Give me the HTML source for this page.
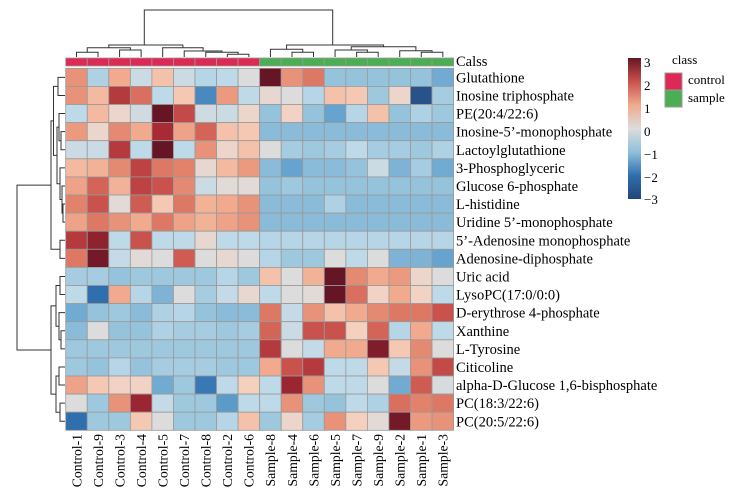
<!DOCTYPE html>
<html><head><meta charset="utf-8"><style>
body{margin:0;background:#fff;}
svg{display:block;font-family:"Liberation Serif",serif;}
</style></head><body>
<svg id="s" width="741" height="502" xmlns="http://www.w3.org/2000/svg">
<defs><linearGradient id="g" x1="0" y1="1" x2="0" y2="0">
<stop offset="0" stop-color="#24457a"/><stop offset="0.167" stop-color="#2f6fae"/><stop offset="0.333" stop-color="#8fc0db"/><stop offset="0.5" stop-color="#dcdcdc"/><stop offset="0.667" stop-color="#f1aa8e"/><stop offset="0.833" stop-color="#c9524c"/><stop offset="1" stop-color="#661525"/>
</linearGradient></defs>
<g id="cells"></g>
<g id="dend" stroke="#333" stroke-width="1" fill="none"></g>
<g font-size="14.5" fill="#000">
<text x="456" y="66">Calss</text>
<text x="456" y="82.4">Glutathione</text>
<text x="456" y="100.5">Inosine triphosphate</text>
<text x="456" y="118.6">PE(20:4/22:6)</text>
<text x="456" y="136.7">Inosine-5’-monophosphate</text>
<text x="456" y="154.8">Lactoylglutathione</text>
<text x="456" y="172.9">3-Phosphoglyceric</text>
<text x="456" y="191">Glucose 6-phosphate</text>
<text x="456" y="209.1">L-histidine</text>
<text x="456" y="227.2">Uridine 5’-monophosphate</text>
<text x="456" y="245.3">5’-Adenosine monophosphate</text>
<text x="456" y="263.4">Adenosine-diphosphate</text>
<text x="456" y="281.5">Uric acid</text>
<text x="456" y="299.6">LysoPC(17:0/0:0)</text>
<text x="456" y="317.7">D-erythrose 4-phosphate</text>
<text x="456" y="335.8">Xanthine</text>
<text x="456" y="353.9">L-Tyrosine</text>
<text x="456" y="372">Citicoline</text>
<text x="456" y="390.1">alpha-D-Glucose 1,6-bisphosphate</text>
<text x="456" y="408.2">PC(18:3/22:6)</text>
<text x="456" y="426.3">PC(20:5/22:6)</text>
</g>
<g id="cl" font-size="13.7" text-anchor="end"></g>
<rect x="628" y="58" width="13" height="141" fill="url(#g)"/>
<g font-size="13">
<text x="644" y="67">3</text><text x="644" y="90">2</text><text x="644" y="113">1</text><text x="644" y="136">0</text>
<text x="644" y="159">−1</text><text x="644" y="182">−2</text><text x="644" y="204">−3</text>
<text x="672" y="64">class</text>
<text x="688" y="84">control</text><text x="688" y="102">sample</text>
</g>
<rect x="665" y="73" width="17" height="17" fill="#dd2a55" stroke="#999"/>
<rect x="665" y="90" width="17" height="17" fill="#4bae54" stroke="#999"/>
</svg>
<script>
var V=[
[1.3,-0.7,1.0,-0.3,0.7,-0.3,-0.6,-0.5,0,3,1.3,1.6,-1,-1,-1,-1,-1,-1.3],
[1.3,0.8,2.3,1.7,-0.5,0.6,-1.7,1.2,-0.5,0.2,0,-0.6,0.7,0.6,-0.9,0.3,-2.7,-0.8],
[-0.5,0.8,0.3,-0.2,3,2.1,-0.2,-0.3,0.3,-1,0.4,-1,-1.4,-0.6,0.7,-1,-0.7,-0.9],
[1.2,0.3,1.4,1.0,2.5,1.1,1.8,0.7,0.6,-1.1,-1.1,-1.1,-1.1,-1.1,-1.1,-1.1,-1.1,-1.1],
[-0.3,-0.3,2.3,-0.5,3,-0.5,1.3,0.3,0.7,0,-0.8,-0.9,-0.8,-0.5,-0.8,-0.8,-0.9,-0.7],
[0.8,0.9,1.4,2.2,1.6,1.5,0.2,0.8,1.2,-1.1,-1.4,-1.1,-1.1,-1.0,-0.3,-1.2,-0.8,-1.3],
[1.1,1.8,0.9,2.2,2.0,1.4,-0.3,0.1,0.1,-1,-0.9,-1,-1,-1,-1,-1,-1,-1],
[1.5,2.0,0.1,1.9,0.6,1.6,0.9,1.0,1.3,-1.1,-1.1,-1.1,-0.7,-1.1,-1.1,-1.1,-1.1,-1.1],
[1.1,1.6,1.3,1.0,1.6,1.1,0.9,1.1,1.3,-1.1,-1.1,-1.1,-1.1,-1.1,-1.1,-1.1,-1.1,-1.1],
[2.3,2.7,-0.5,2.0,-0.5,-0.5,0.2,-0.5,-0.5,-0.6,-0.6,-0.6,-0.6,-0.6,-0.6,-0.6,-0.6,-0.6],
[1.6,2.9,-0.4,0.1,0,1.9,0,0.2,0,-0.6,-0.9,-0.9,0,-0.5,0,-1.2,-1.2,-1.4],
[-0.8,-0.8,-1.0,-0.9,-0.9,-0.9,-0.9,-0.6,-0.9,0.7,0,0.9,3,1.4,1.0,1.2,0.3,0],
[-0.5,-2.0,1.0,-0.6,-1.2,0,-0.8,-0.4,0.2,-0.5,0,0.1,3,1.7,0.4,1.0,0.4,-0.5],
[-1.3,-1.0,-0.9,-1.1,-0.7,-0.6,-1.0,-1.1,-1.1,1.6,-0.4,1.3,0.7,1.0,1.4,1.6,1.6,2.0],
[-1.1,0,-1.0,-1.0,-0.7,-0.8,-0.8,-0.9,-0.8,1.8,-0.3,2.0,2.0,0.5,1.8,-0.6,1.0,-0.5],
[-0.9,-0.9,-0.9,-0.9,-0.9,-0.9,-0.9,-0.9,-0.9,2.3,0,-0.4,1.0,1.0,2.8,0.6,1.4,0],
[-0.9,-1.0,-0.6,-1.0,-0.8,-0.8,-0.8,-0.9,-0.9,1.0,2.0,2.3,-0.5,-0.5,0.6,-0.4,1.3,2.1],
[1.1,0.6,0.4,0.4,-1.3,-0.9,-1.9,-0.5,0.5,-0.5,2.6,1.3,-0.5,-0.5,0,-1.3,1.9,-0.1],
[0,-0.9,1.3,2.6,-0.4,-0.9,-0.9,-1.5,-0.5,-0.5,1.3,-0.9,-1.0,-0.5,-0.7,1.7,1.5,1.6],
[-2.0,-0.9,-0.9,0.6,0,-0.9,-0.9,-0.6,0.7,-0.9,0.3,-0.8,1.3,0.5,0.1,2.9,1.2,1.3]];
var S=[[-3,[36,69,122]],[-2,[47,111,174]],[-1.5,[90,155,202]],[-1,[150,195,220]],[-0.5,[190,218,232]],[0,[220,220,220]],[0.5,[246,208,190]],[1,[241,170,142]],[1.5,[226,130,107]],[2,[201,82,76]],[2.5,[168,42,53]],[3,[102,21,37]]];
function col(v){v=Math.max(-3,Math.min(3,v));for(var i=0;i<S.length-1;i++){if(v<=S[i+1][0]){var t=(v-S[i][0])/(S[i+1][0]-S[i][0]);var a=S[i][1],b=S[i+1][1];return'rgb('+a.map(function(x,k){return Math.round(x+(b[k]-x)*t)}).join(',')+')';}}return'rgb(102,21,37)';}
var X0=65.7,CW=21.55,Y0=68.3,RH=18.1,h='';
for(var c=0;c<18;c++){h+='<rect x="'+(X0+c*CW)+'" y="58" width="'+CW+'" height="8" fill="'+(c<9?'#dd2a55':'#4bae54')+'" stroke="#999" stroke-width="0.8"/>';}
for(var r=0;r<20;r++)for(var c=0;c<18;c++){h+='<rect x="'+(X0+c*CW)+'" y="'+(Y0+r*RH)+'" width="'+CW+'" height="'+RH+'" fill="'+col(V[r][c])+'" stroke="#999" stroke-width="0.8"/>';}
document.getElementById('cells').innerHTML=h;
var names=['Control-1','Control-9','Control-3','Control-4','Control-5','Control-7','Control-8','Control-2','Control-6','Sample-8','Sample-4','Sample-6','Sample-5','Sample-7','Sample-9','Sample-2','Sample-1','Sample-3'];
var t='';names.forEach(function(n,i){var x=X0+CW*(i+0.5)+4.8;t+='<text transform="translate('+x+',434) rotate(-90)">'+n+'</text>';});
document.getElementById('cl').innerHTML=t;
function cx(i){return X0+CW*(i+0.5);}function ry(i){return Y0+RH*(i+0.5);}
var d='';
function tm(a,b,y,ya,yb){d+='<path d="M'+a+' '+ya+'V'+y+'H'+b+'V'+yb+'"/>';}
var L=57;
tm(cx(0),cx(1),52.3,L,L);var a01=(cx(0)+cx(1))/2;
tm(cx(2),cx(3),50,L,L);var a23=(cx(2)+cx(3))/2;
tm(a01,a23,47.7,52.3,50);var aA=(a01+a23)/2;
tm(cx(7),cx(8),54.3,L,L);var a78=(cx(7)+cx(8))/2;
tm(cx(6),a78,52.3,L,54.3);var a6=(cx(6)+a78)/2;
tm(cx(5),a6,51,L,52.3);var a5=(cx(5)+a6)/2;
tm(cx(4),a5,47.7,L,51);var a4=(cx(4)+a5)/2;
tm(aA,a4,45,47.7,47.7);
tm(cx(10),cx(11),52.3,L,L);var b1=(cx(10)+cx(11))/2;
tm(cx(9),b1,49.3,L,52.3);var b9=(cx(9)+b1)/2;
tm(cx(13),cx(14),52.3,L,L);var b13=(cx(13)+cx(14))/2;
tm(cx(12),b13,50,L,52.3);var b12=(cx(12)+b13)/2;
tm(cx(16),cx(17),52.3,L,L);var b16=(cx(16)+cx(17))/2;
tm(cx(15),b16,50.7,L,52.3);var b15=(cx(15)+b16)/2;
tm(b12,b15,46.7,50,50.7);var bB=(b12+b15)/2;
tm(b9,bB,45,49.3,46.7);
tm(144.3,332.7,10,45,45);
function lm(a,b,x,xa,xb){d+='<path d="M'+xa+' '+a+'H'+x+'V'+b+'H'+xb+'"/>';}
var R=65;
lm(ry(0),ry(1),58,R,R);var r01=(ry(0)+ry(1))/2;
lm(ry(3),ry(4),61,R,R);var r34=(ry(3)+ry(4))/2;
lm(ry(2),r34,59,R,61);var r2=(ry(2)+r34)/2;
lm(ry(7),ry(8),63,R,R);var r78=(ry(7)+ry(8))/2;
lm(ry(6),r78,62,R,63);var r6=(ry(6)+r78)/2;
lm(ry(5),r6,60,R,62);var r5=(ry(5)+r6)/2;
lm(r2,r5,57,59,60);var rC=(r2+r5)/2;
lm(r01,rC,53.5,58,57);var rAC=(r01+rC)/2;
lm(ry(9),ry(10),60,R,R);var r9=(ry(9)+ry(10))/2;
lm(rAC,r9,51,53.5,60);var rT=(rAC+r9)/2;
lm(ry(11),ry(12),60,R,R);var r11=(ry(11)+ry(12))/2;
lm(ry(14),ry(15),61,R,R);var r14=(ry(14)+ry(15))/2;
lm(ry(13),r14,59,R,61);var r13=(ry(13)+r14)/2;
lm(r11,r13,56,60,59);var rX=(r11+r13)/2;
lm(ry(16),ry(17),59,R,R);var r16=(ry(16)+ry(17))/2;
lm(ry(18),ry(19),60,R,R);var r18=(ry(18)+ry(19))/2;
lm(r16,r18,56,59,60);var rY=(r16+r18)/2;
lm(rX,rY,51,56,56);var rB=(rX+rY)/2;
lm(rT,rB,17,51,51);
document.getElementById('dend').innerHTML=d;
</script>
</body></html>
